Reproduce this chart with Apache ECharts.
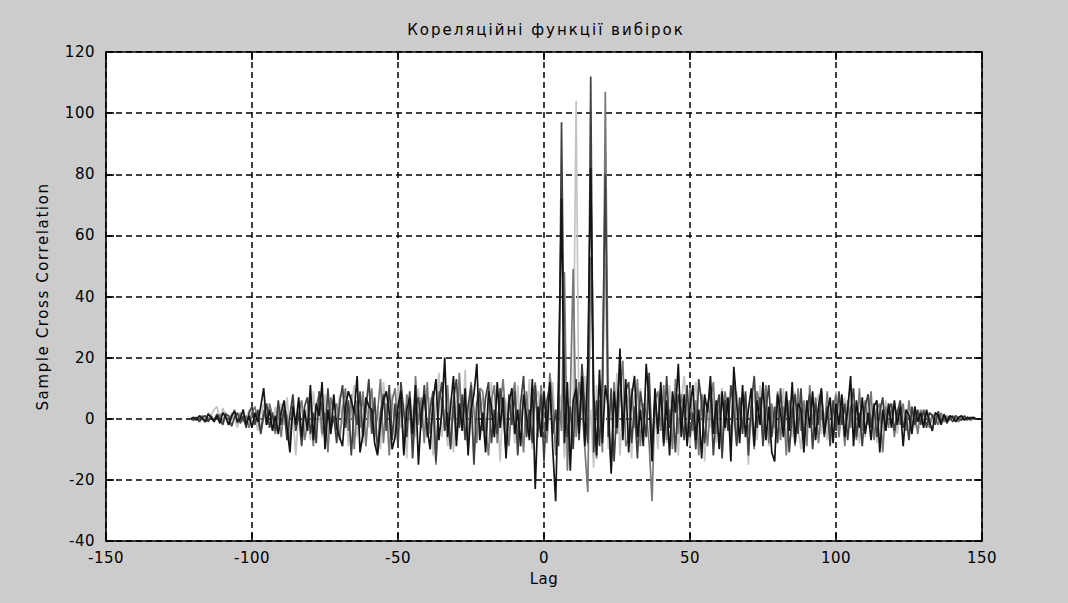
<!DOCTYPE html>
<html>
<head>
<meta charset="utf-8">
<script src="https://cdn.jsdelivr.net/npm/echarts@6/dist/echarts.min.js"></script>
<style>
html,body{margin:0;padding:0;background:#cccccc;}
#main{width:1068px;height:603px;}
</style>
</head>
<body>
<div id="main"></div>
<script>
// ---- texts ----
const titleText = 'Кореляційні функції вибірок';
const xName = 'Lag';
const yName = 'Sample Cross Correlation';

// ---- axes ----
const xMin = -150, xMax = 150, xStep = 50;
const yMin = -40, yMax = 120, yStep = 20;

// ---- lags: first lag of every series (one value per integer lag) ----
const lagStart = -121;

// ---- series values (lag -121 ... 148) ----
const s1 = [
  0, 0.5, -0.5, 1, 0, -1, 1.5, 0.5, -1, 1,
  -1.5, 2, 0.5, -2, 1, 2.5, -1, 0, 3, -2,
  1, -3, 2, -1, 4, 10, -2, 3, -4, 1,
  -5, 2, 6, -3, -11, 4, -2, 7, -6, 3,
  -4, 11, -7, 5, 1, 12, -10, 3, -5, 8,
  -3, -6, -9, 4, 9, 6, 2, 14, -11, -5,
  7, 4, 3, -8, -12, -2, 6, 9, 2, -10,
  -6, 4, 9, -12, 3, 7, -5, 11, -15, 2,
  8, -3, -10, 6, 13, -7, 2, 20, -6, 4,
  14, -9, 5, -4, 10, -12, 3, 8, 18, -7,
  2, -11, 9, 4, -6, 12, -3, 7, -13, 5,
  10, -5, 3, -9, 8, 1, -7, 13, -23, 4,
  -6, 9, -4, 12, -10, -27, 15, 72, -8, 12,
  -17, 6, 10, -5, 14, -9, 18, 82, 8, -12,
  16, -8, 11, 4, -18, 9, -3, 23, -7, 13,
  -11, 7, 14, -6, 3, -9, 18, 5, -14, 10,
  -5, 12, -8, 6, -12, 9, 2, 18, -6, 8,
  -9, 4, 11, -7, 3, -13, 8, 2, 14, -5,
  6, -10, 9, -3, 7, -14, 17, 5, -8, 11,
  -6, 3, 10, -9, 6, -2, 12, -7, 4, -11,
  -14, 8, 2, -6, 9, -4, 12, -8, 5, 3,
  -11, 6, -3, 9, -7, 4, 10, -5, 2, 7,
  -8, 5, -2, 8, -6, 3, 14, -9, 6, -3,
  7, -5, 2, -7, 4, 6, -11, 3, -4, 5,
  -3, 6, -2, 4, -9, 3, 1, -5, 4, -1,
  2, -3, 3, -1, -4, 2, 1, -2, 1.5, -1,
  1, 0.5, -1, 0.5, 1, -0.5, 0.5, 0, 0.5, 0
];
const s2 = [
  0, -0.5, 0.5, -1, 0.5, 1, -1, 0.5, -0.5, 1.5,
  0, -2, 1.5, 1, -2.5, 0.5, 2, -1.5, 1, -3,
  2, 4, -2, 3, -5, 1, 5, -3, 2, -4,
  6, -2, 3, -7, 1, 8, -4, 2, -9, 4,
  7, -5, 2, -8, 9, 3, -6, 10, -4, 1,
  -8, 5, 11, -3, 6, -12, 4, -2, 9, -6,
  3, 13, -5, 7, -11, 2, 8, -4, 11, -7,
  5, -9, 12, 2, -6, 9, -13, 4, 7, -3,
  11, -6, 3, 9, -14, 5, 12, -4, 2, -10,
  6, 13, -3, 8, -7, 4, 11, -15, 5, 9,
  -4, 7, 12, -8, 3, -5, 10, 2, -11, 8,
  -2, 9, -12, 5, 14, -6, 3, -8, 11, -4,
  8, -14, 6, 11, -5, 3, -9, 97, 10, -6,
  4, -10, 13, -7, 18, 3, -8, 112, -11, 6,
  -9, 14, 80, -6, 10, -14, 5, 17, -4, 9,
  12, -8, 4, -13, 9, 2, -6, 15, -10, 7,
  -4, 10, -9, 14, -3, 6, -11, 8, 3, -7,
  11, -6, 2, -10, 13, 5, -8, 4, 9, -12,
  3, 8, -13, 6, -4, 11, 2, -9, 7, -5,
  9, -12, 5, 14, -3, 7, -9, 3, 11, -6,
  4, -8, 10, -3, 6, -11, 2, 8, -5, 10,
  -7, 3, 8, -10, 5, -2, 9, -6, 4, -9,
  6, -4, 9, -2, 5, -7, 3, 10, -6, 2,
  -9, 4, 8, -3, 5, -6, 2, 7, -4, 3,
  5, -4, 2, 6, -3, 1, -7, 4, -2, 3,
  -2, 3, -3, 2, 1, -2, 2.5, -1, 1, -1.5,
  0.5, -1, 1, 0, -0.5, 1, -0.5, 0.5, 0, 0
];
const s3 = [
  0, 0, 0.5, -0.5, 1, -1, 0, 1, -0.5, 0.5,
  1.5, -1, 2, -2, 0, 3, -1.5, 2, -1, 1,
  -3, 2, 4, -1, -4, 3, -2, 5, 1, -5,
  3, -6, 4, 1, -8, 5, -3, 2, 6, -7,
  -2, 6, -9, 4, 8, -5, 2, -11, 7, 3,
  5, -7, 3, 10, -4, 8, -10, 6, -3, 9,
  -9, 4, 10, -6, 2, 13, -8, 5, -12, 6,
  10, -4, 6, -11, 8, 3, -9, 14, -2, 7,
  -8, 12, -5, 3, -15, 9, 6, -3, 11, -9,
  4, -7, 15, -2, 6, -10, 12, 3, -8, 10,
  9, -3, -12, 6, 11, -8, 4, 13, -2, -9,
  6, 12, -7, 3, -11, 9, -3, 7, 12, -6,
  11, -3, -8, 15, 5, -12, 8, -4, 48, -17,
  7, 49, -6, 12, 4, -10, -24, 53, 9, -13,
  6, -11, 107, 4, -17, 12, -5, 8, 19, -9,
  -6, 10, -3, 13, -9, 5, 2, -8, -27, 6,
  9, -4, 11, -7, 3, -10, 13, -5, 8, 2,
  -7, 10, -4, 6, -12, 8, 3, -9, 5, 12,
  -5, 7, -11, 9, 2, -6, 13, -8, 4, -3,
  8, -5, 2, -10, 9, 4, -6, 11, -8, 5,
  -3, 9, -7, 4, -12, 6, 1, -9, 10, -4,
  6, -9, 11, -2, 7, -8, 3, -4, 9, -6,
  3, 8, -6, 4, -9, 6, -3, 5, -7, 10,
  -4, 6, -2, 9, -7, 3, 5, -11, 4, -3,
  4, -6, 3, -2, 5, -4, 6, -3, 2, -5,
  3, -1, 2, -3, 1.5, 0, -2, 2, -1, 1,
  -0.5, 1, 0, -1, 0.5, 0, 0.5, -0.5, 0, 0
];
const s4 = [
  0, 0, 0, 0.5, 1, -1, 2, 1, 3, 4,
  -1, 3.5, 1, -2, 2, 0.5, -3, 1.5, 2, -1,
  3, -2, 1, -4, 2, 5, -1, 3, -2, 4,
  -3, 5, -2, 7, -4, 1, -12, 3, 6, -5,
  4, -7, 9, -3, 2, -6, 8, -10, 5, 1,
  -5, 8, -2, 6, -9, 4, 11, -6, 3, -8,
  6, -3, 9, -7, 4, -10, 12, 3, -5, 8,
  -7, 11, -3, 5, -13, 8, 2, -6, 10, -4,
  9, -5, 7, -12, 4, 15, -6, 3, -9, 6,
  -11, 5, 9, -4, 16, -7, 3, -13, 8, 2,
  7, -9, 4, 12, -6, 2, -14, 8, 5, -7,
  4, -8, 11, -5, 7, -3, 13, -10, 6, 9,
  -5, 10, -7, 4, 12, -9, 3, 8, -13, 5,
  -8, 9, 104, -6, 7, 14, -9, 3, -16, 11,
  -4, 12, 51, -10, 6, -3, 15, -12, 4, 9,
  5, -13, 8, -2, 10, -7, 4, 12, -9, 3,
  -10, 6, 3, -8, 11, -4, 7, -12, 5, 14,
  3, -9, 6, 12, -5, 8, -14, 4, -3, 7,
  -8, 5, 10, -4, 7, -11, 3, 9, -6, 2,
  6, -15, 4, 8, -7, 11, -3, 5, -9, 3,
  -5, 7, -2, 10, -8, 4, -6, 9, -3, -10,
  5, -3, 7, -9, 4, 8, -5, 2, -7, 6,
  -4, 9, -6, 3, 7, -5, 11, -2, 4, -8,
  3, -6, 8, -2, 4, -8, 5, -3, 6, 2,
  -2, 4, -5, 5, -1, 3, -4, 2, -3, 1,
  1, -2, 2, 0, -1, 1.5, -1, 0.5, 1, -0.5,
  0, 0.5, -0.5, 0, 0.5, 0, 0, 0.5, 0, 0
];

const seriesValues = [s4, s3, s2, s1];          // drawing order (light first)
const seriesColors = ['#c4c4c4', '#787878', '#404040', '#141414'];

function toPairs(vals) { return vals.map((v, i) => [lagStart + i, v]); }

const FONT = 'DejaVu Sans';
const chart = echarts.init(document.getElementById('main'), null, { renderer: 'svg' });

const baseAxisLine = { show: true, onZero: false, lineStyle: { color: '#000', width: 1.6 } };
const baseTick = { show: true, inside: true, length: 8, lineStyle: { color: '#000', width: 1.6 } };
const gridLine = { show: true, lineStyle: { color: '#000', width: 1.5, type: [6, 4] } };

chart.setOption({
  animation: false,
  backgroundColor: '#cccccc',
  title: {
    text: titleText,
    left: 541, top: 17, textAlign: 'center',
    textStyle: { fontFamily: FONT, fontSize: 15, fontWeight: 'normal', color: '#000' }
  },
  grid: { left: 106, right: 86, top: 52, bottom: 62, show: true, backgroundColor: '#ffffff', borderWidth: 0 },
  xAxis: [{
    type: 'value', min: xMin, max: xMax, interval: xStep,
    name: xName, nameLocation: 'middle', nameGap: 30,
    nameTextStyle: { fontFamily: FONT, fontSize: 15, color: '#000' },
    axisLine: baseAxisLine, axisTick: baseTick, splitLine: gridLine,
    axisLabel: { color: '#000', fontFamily: FONT, fontSize: 15, margin: 9 }
  }, {
    type: 'value', min: xMin, max: xMax, interval: xStep, position: 'top',
    axisLine: baseAxisLine, axisTick: baseTick, splitLine: { show: false }, axisLabel: { show: false }
  }],
  yAxis: [{
    type: 'value', min: yMin, max: yMax, interval: yStep,
    name: yName, nameLocation: 'middle', nameGap: 56,
    nameTextStyle: { fontFamily: FONT, fontSize: 15, color: '#000' },
    axisLine: baseAxisLine, axisTick: baseTick, splitLine: gridLine,
    axisLabel: { color: '#000', fontFamily: FONT, fontSize: 15, margin: 11 }
  }, {
    type: 'value', min: yMin, max: yMax, interval: yStep, position: 'right',
    axisLine: baseAxisLine, axisTick: baseTick, splitLine: { show: false }, axisLabel: { show: false }
  }],
  series: seriesValues.map((vals, k) => ({
    type: 'line', xAxisIndex: 0, yAxisIndex: 0,
    data: toPairs(vals), showSymbol: false, symbol: 'none',
    lineStyle: { color: seriesColors[k], width: 1.7 }, itemStyle: { color: seriesColors[k] },
    silent: true
  }))
});

function spaceTexts() {
  document.querySelectorAll('#main svg text').forEach(t => {
    const s = t.textContent;
    if (s === titleText) t.style.letterSpacing = '2px';
    else if (s === yName) t.style.letterSpacing = '1.6px';
    else t.style.letterSpacing = '0.5px';
  });
}
chart.on('finished', spaceTexts);
setTimeout(spaceTexts, 50);
</script>
</body>
</html>
